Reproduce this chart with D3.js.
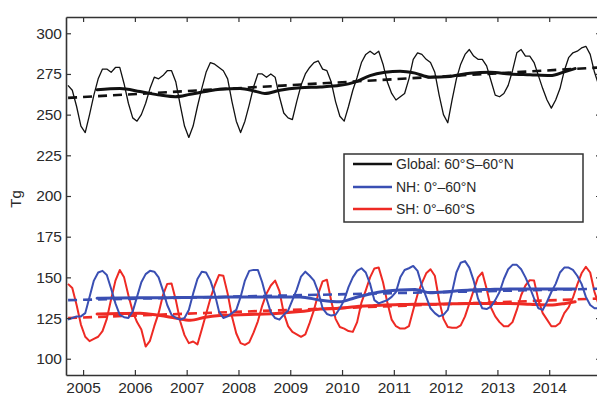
<!DOCTYPE html>
<html><head><meta charset="utf-8">
<script src="https://cdn.jsdelivr.net/npm/d3@7"></script>
<style>body{margin:0;background:#fff}svg{display:block}text{font-family:"Liberation Sans",Arial,sans-serif}</style>
</head><body><svg id="c" width="597" height="396"></svg>
<script>
// monthly series starting Sep 2004 (mid-month), step 1/12 year
const startYear = 2004.708;
const globalMonthly = [268,265,255,243,239,250,262,272,278,278,276,279,279,269,257,248,246,250,257,266,273,272,274,277,277,270,256,243,236,243,255,266,276,282,281,279,277,272,258,246,239,246,256,267,275,275,273,275,273,261,251,248,247,258,268,275,279,282,283,278,277,270,258,249,246,255,265,273,282,287,289,287,289,281,270,263,259,261,263,272,284,288,287,284,282,276,262,250,245,259,272,281,287,290,286,284,284,280,271,262,261,263,268,277,288,290,286,286,282,274,266,259,254,259,266,277,285,288,289,291,292,287,276,268];
const nhMonthly = [124,125,126,126,128,138,148,153,154,151.5,143,134,127,125.5,125,129,138,147,152,154,153.5,150,142,133,127,125,124,125,130,140,149,153.5,153,148,140,129,125,126,128,130,138,148,154,154.6,154.6,147,137,128.5,125,124,127,129.5,136,142.5,150.5,153.5,151,148,141,131,127.5,126.5,127,131,136,144,150,154,155.6,153,146,136,134,135,136,138,141,150,154.5,155.6,157,154,145,138,131,128,126,127,130,141,153,159,160,156,148,137,131,130.5,132,136,141,149,155,157.7,157.7,155,150,144,137,131,130,135,141,146,153,156,156,154.6,151,146,138,133,131,131];
const shMonthly = [146,143.5,133,121,113.5,110.8,112.2,113.5,117,124.5,136.5,148,154.5,150,139,129,122.5,118,107.5,111,120,128,139,146,146.3,136,123,114.5,109.6,110.6,108.8,118,127.5,137,145,151.5,151,140,126,115.5,109.6,108.5,110,116,123,132.5,140,145,148,141.5,128,120,116.5,115,113.5,115,122,130,140,147.5,148.5,135.5,124.5,119.5,118.5,117,116.5,122.5,134.5,142,150,155.5,156,147,134.5,124,120,118.5,118.5,120,130,139.5,146.5,152.5,155,151,136,124.5,119.5,119,119,120.5,126,134,142,150,153,143,131.5,126,122.5,120,120,122.5,130,139,145,148.3,148,136,128,124,120,120,122,128,131.5,137.5,145.5,152.5,156.5,153,141,133];
// 12-month running means
const smoothYears = [2005.27,2005.71,2006.10,2006.49,2006.78,2007.07,2007.36,2007.64,2008.03,2008.32,2008.51,2008.80,2009.19,2009.58,2009.96,2010.25,2010.54,2010.83,2011.12,2011.41,2011.70,2012.08,2012.47,2012.86,2013.24,2013.63,2014.02,2014.31,2014.50];
const globalSmooth = [265.3,266,264.2,262,261,262.5,264.2,265.6,266,264.4,263,265,266.5,267,268,270,274,276,276.7,275.5,273,273.5,275.5,276,275,274.5,274,276.5,278.3];
const nhSmooth = [137.2,137.3,137.4,137.5,137.6,137.7,137.8,137.8,138,138,138,138,138,136,135,137.5,139.8,141.5,142.3,142.5,140.5,141.3,142.3,142.6,142.8,142.8,142.8,142.8,142.8];
const shSmooth = [127.5,127.8,128,126.5,125,123.6,125.5,126.5,127,127.3,127.5,128,129,130.5,131,132,132.5,133,133.3,133.5,133.5,133.8,134,134,134,133.5,133,134,135];
// linear trends: values at start and end years
const trendYears = [2004.71, 2014.97];
const globalTrend = [260.3, 279];
const nhTrend = [136, 143];
const shTrend = [125, 137];
const xTicks = [2005,2006,2007,2008,2009,2010,2011,2012,2013,2014];
const yTicks = [100,125,150,175,200,225,250,275,300];
const legendLabels = ["Global: 60°S–60°N","NH: 0°–60°N","SH: 0°–60°S"];
const colors = ["#111111","#3a4fb3","#ee2a24"];

const svg = d3.select("#c");
const L=66, T=17, R=601, B=375;
const x = d3.scaleLinear().domain([2004.67, 2015]).range([L, R]);
const y = d3.scaleLinear().domain([90, 310]).range([B, T]);

svg.append("defs").append("clipPath").attr("id","pc").append("rect")
  .attr("x",L).attr("y",T).attr("width",R-L).attr("height",B-T);
const g = svg.append("g").attr("clip-path","url(#pc)");

const monthly = arr => arr.map((v,i)=>[startYear+i/12, v]);
const lineM = d3.line().x(d=>x(d[0])).y(d=>y(d[1]));
const lineS = d3.line().x(d=>x(d[0])).y(d=>y(d[1])).curve(d3.curveMonotoneX);

const series = [
  {m: globalMonthly, s: globalSmooth, t: globalTrend, c: colors[0], w: 1.3},
  {m: nhMonthly, s: nhSmooth, t: nhTrend, c: colors[1], w: 2},
  {m: shMonthly, s: shSmooth, t: shTrend, c: colors[2], w: 2}
];
[series[2], series[1], series[0]].forEach(sr=>{
  g.append("path").datum(monthly(sr.m)).attr("d",lineM).attr("fill","none")
    .attr("stroke",sr.c).attr("stroke-width",sr.w).attr("stroke-linejoin","round");
  g.append("path").datum(trendYears.map((t,i)=>[t,sr.t[i]])).attr("d",lineM).attr("fill","none")
    .attr("stroke",sr.c).attr("stroke-width",2.6).attr("stroke-dasharray","9,6");
  g.append("path").datum(smoothYears.map((t,i)=>[t,sr.s[i]])).attr("d",lineS).attr("fill","none")
    .attr("stroke",sr.c).attr("stroke-width",3).attr("stroke-linecap","round");
});

// axes (MATLAB style inward ticks, box)
const ac = "#333";
const axB = svg.append("g").attr("transform",`translate(0,${B})`)
  .call(d3.axisBottom(x).tickValues(xTicks).tickFormat(d3.format("d")).tickSizeInner(-5).tickSizeOuter(0).tickPadding(7));
const axT = svg.append("g").attr("transform",`translate(0,${T})`)
  .call(d3.axisTop(x).tickValues(xTicks).tickFormat("").tickSizeInner(-5).tickSizeOuter(0));
const axL = svg.append("g").attr("transform",`translate(${L},0)`)
  .call(d3.axisLeft(y).tickValues(yTicks).tickSizeInner(-5).tickSizeOuter(0).tickPadding(4));
const axR = svg.append("g").attr("transform",`translate(${R},0)`)
  .call(d3.axisRight(y).tickValues(yTicks).tickFormat("").tickSizeInner(-5).tickSizeOuter(0));
[axB,axT,axL,axR].forEach(a=>{
  a.select(".domain").attr("stroke",ac).attr("stroke-width",1.6);
  a.selectAll(".tick line").attr("stroke",ac).attr("stroke-width",1.2);
  a.selectAll("text").attr("fill","#2a2a2a").style("font-size","15.5px").attr("font-family","Liberation Sans, Arial, sans-serif");
});

svg.append("text").attr("transform","translate(16,199) rotate(-90)").attr("text-anchor","middle")
  .attr("dy","0.35em").attr("fill","#2a2a2a").style("font-size","15px").text("Tg");

// legend
const lg = svg.append("g");
lg.append("rect").attr("x",344).attr("y",154).attr("width",239).attr("height",68)
  .attr("fill","#fff").attr("stroke","#333").attr("stroke-width",1.5);
const ly = [164, 187, 209];
legendLabels.forEach((lab,i)=>{
  lg.append("line").attr("x1",353).attr("x2",392).attr("y1",ly[i]).attr("y2",ly[i])
    .attr("stroke",colors[i]).attr("stroke-width",2.6);
  lg.append("text").attr("x",396).attr("y",ly[i]).attr("dy","0.35em")
    .attr("fill","#2a2a2a").style("font-size","14px").text(lab);
});
</script></body></html>
